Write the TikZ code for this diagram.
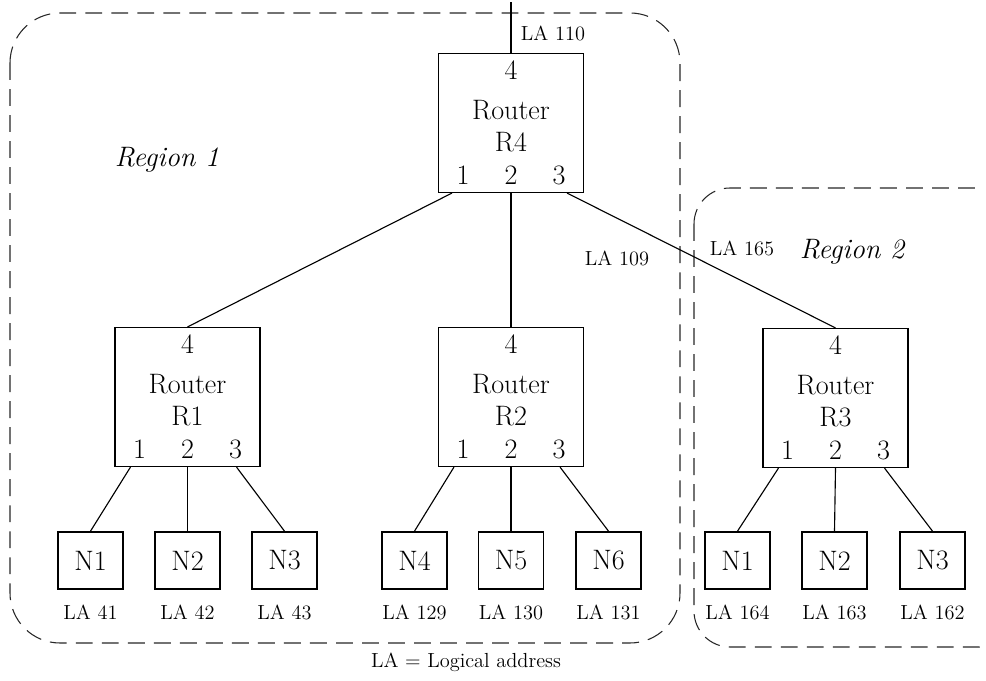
\documentclass[tikz,border=0pt]{standalone}
\begin{document}
\def \px {0.025cm}
\def \hostY {560.5}
\def \laY {612}

\begin{tikzpicture}[x=\px, y=-\px,
    router/.style={draw, line width=0.8pt, minimum width=145*\px, minimum height=139*\px, inner sep=0pt},
    host/.style={draw, line width=1.2pt, minimum width=65*\px, minimum height=57*\px, inner sep=0pt, font=\fontsize{20}{22}\selectfont},
    big/.style={inner sep=0pt, font=\fontsize{20}{22}\selectfont},
    small/.style={inner sep=0pt, font=\fontsize{14.5}{16}\selectfont},
    wire/.style={line width=0.8pt},
    region/.style={draw=black!85, line width=0.75pt, dash pattern=on 12pt off 6.5pt}]
      \useasboundingbox (0,0) rectangle (986,681);

      % regions
      \draw[region, rounded corners=1.25cm] (10,13) rectangle (680,643);
      \begin{scope}
         \clip (0,0) rectangle (982,681);
         \draw[region, rounded corners=0.9cm] (694,188) rectangle (1015,647);
      \end{scope}
      \node[big] (reg1) at (167,160) {\itshape Region 1};
      \node[big] (reg2) at (852,252) {\itshape Region 2};

      % routers
      \foreach \name/\x/\y in {R4/511/123, R1/187.5/397, R2/511/397, R3/835.5/398} {
         \node[router] (\name) at (\x,\y) {};
         \path (\name) ++(0,-53) node[big] (\name-4) {4}
               ++(0,40) node[big] (\name-txt) {Router}
               ++(0,32) node[big] (\name-id) {\name}
               ++(-48,33) node[big] (\name-1) {1}
               ++(48,0) node[big] (\name-2) {2}
               ++(48,0) node[big] (\name-3) {3};
      }

      % hosts
      \foreach \name/\lbl/\x/\la in {N1/N1/90.5/41, N2/N2/187.5/42, N3/N3/284.5/43,
            N4/N4/414.5/129, N5/N5/511/130, N6/N6/608.5/131,
            M1/N1/737.5/164, M2/N2/834.5/163, M3/N3/932.5/162} {
         \node[host] (\name) at (\x,\hostY) {\lbl};
         \node[small] (\name-la) at (\x,\laY) {LA \la};
      }

      % links
      \coordinate (up) at (511,2);
      \draw[wire] (R4.north) -- (up);
      \draw[wire] ([xshift=-59*\px]R4.south) -- (R1.north);
      \draw[wire] (R4.south) -- (R2.north);
      \draw[wire] ([xshift=56*\px]R4.south) -- (R3.north);
      \foreach \r/\a/\b/\c in {R1/N1/N2/N3, R2/N4/N5/N6, R3/M1/M2/M3} {
         \draw[wire] ([xshift=-57*\px]\r.south) -- (\a.north);
         \draw[wire] (\r.south) -- (\b.north);
         \draw[wire] ([xshift=49*\px]\r.south) -- (\c.north);
      }

      \node[small] (la110) at (553,33) {LA 110};
      \node[small] (la109) at (617,258) {LA 109};
      \node[small] (la165) at (742,248) {LA 165};
      \node[small] (legend) at (466,662) {LA = Logical address};
   \end{tikzpicture}
\end{document}
